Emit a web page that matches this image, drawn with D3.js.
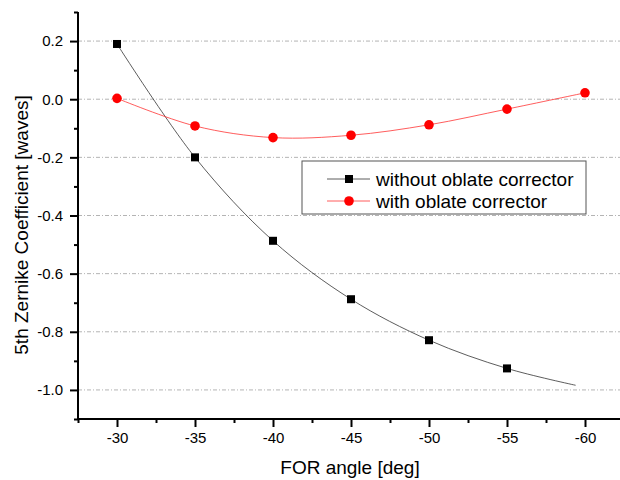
<!DOCTYPE html>
<html>
<head>
<meta charset="utf-8">
<script src="https://cdn.jsdelivr.net/npm/d3@7"></script>
<style>
  body { margin: 0; background: #fff; }
  text { font-family: "Liberation Sans", Arial, sans-serif; fill: #000; }
</style>
</head>
<body>
<div id="chart"></div>
<script>
// values
const angles = [-30, -35, -40, -45, -50, -55, -60];
const withoutCorrector = [0.19, -0.2, -0.487, -0.688, -0.829, -0.926];
const withCorrector = [0.003, -0.092, -0.132, -0.124, -0.088, -0.034, 0.022];
// the black fitted curve runs a little past the last marker
const withoutCurveEnd = { angle: -59.4, value: -0.984 };
const yTicks = [0.2, 0.0, -0.2, -0.4, -0.6, -0.8, -1.0];
const xTicks = [-30, -35, -40, -45, -50, -55, -60];
const seriesNames = ["without oblate corrector", "with oblate corrector"];

const width = 620, height = 480;
const plotLeft = 78, plotTop = 12, plotBottom = 419;

const svg = d3.select("#chart").append("svg")
    .attr("width", width)
    .attr("height", height);

const x = d3.scaleLinear().domain([-27.5, -62.5]).range([plotLeft, 624]);
const y = d3.scaleLinear().domain([-1.1, 0.3]).range([plotBottom, plotTop]);

// hyphen instead of unicode minus, like the original
const fmt = f => d => d3.format(f)(d).replace("\u2212", "-");

// grid
svg.append("g").selectAll("line")
    .data(yTicks)
    .enter().append("line")
    .attr("x1", plotLeft).attr("x2", width)
    .attr("y1", d => y(d)).attr("y2", d => y(d))
    .attr("stroke", "#b4b4b4")
    .attr("stroke-width", 1)
    .attr("stroke-dasharray", "4,2,1,2");

// axes
const yAxis = svg.append("g")
    .attr("transform", "translate(" + plotLeft + ",0)")
    .call(d3.axisLeft(y).tickValues(yTicks).tickSize(8).tickPadding(7)
        .tickFormat(fmt(".1f")));
svg.append("g")
    .attr("transform", "translate(" + plotLeft + ",0)")
    .call(d3.axisLeft(y).tickValues([0.3, 0.1, -0.1, -0.3, -0.5, -0.7, -0.9, -1.1]).tickSize(4).tickFormat(""))
    .select(".domain").remove();

const xAxis = svg.append("g")
    .attr("transform", "translate(0," + plotBottom + ")")
    .call(d3.axisBottom(x).tickValues(xTicks).tickSize(8).tickPadding(5)
        .tickFormat(fmt("d")));
svg.append("g")
    .attr("transform", "translate(0," + plotBottom + ")")
    .call(d3.axisBottom(x).tickValues([-27.5, -32.5, -37.5, -42.5, -47.5, -52.5, -57.5]).tickSize(4).tickFormat(""))
    .select(".domain").remove();

svg.selectAll(".domain").attr("stroke", "#000").attr("stroke-width", 2);
svg.selectAll(".tick line").attr("stroke", "#000").attr("stroke-width", 2);
svg.selectAll(".tick text")
    .style("font-family", "Liberation Sans, Arial, sans-serif")
    .style("font-size", "15px")
    .attr("fill", "#111");
xAxis.select(".domain").attr("d", "M" + plotLeft + ",0H" + width);
yAxis.select(".domain").attr("d", "M0," + plotTop + "V" + plotBottom);

// series lines
const line = d3.line()
    .x(d => x(d[0]))
    .y(d => y(d[1]))
    .curve(d3.curveCatmullRom.alpha(0.5));

const blackPts = withoutCorrector.map((v, i) => [angles[i], v]);
blackPts.push([withoutCurveEnd.angle, withoutCurveEnd.value]);
const redPts = withCorrector.map((v, i) => [angles[i], v]);

svg.append("path")
    .attr("d", line(blackPts))
    .attr("fill", "none")
    .attr("stroke", "#333")
    .attr("stroke-width", 0.8);
svg.append("path")
    .attr("d", line(redPts))
    .attr("fill", "none")
    .attr("stroke", "#f33")
    .attr("stroke-width", 0.8);

svg.append("g").selectAll("rect")
    .data(withoutCorrector)
    .enter().append("rect")
    .attr("x", (d, i) => x(angles[i]) - 4)
    .attr("y", d => y(d) - 4)
    .attr("width", 8).attr("height", 8)
    .attr("fill", "#000");

svg.append("g").selectAll("circle")
    .data(withCorrector)
    .enter().append("circle")
    .attr("cx", (d, i) => x(angles[i]))
    .attr("cy", d => y(d))
    .attr("r", 4.8)
    .attr("fill", "#f00");

// legend
const lg = svg.append("g").attr("transform", "translate(302,161)");
lg.append("rect")
    .attr("width", 284).attr("height", 53)
    .attr("fill", "#fff")
    .attr("stroke", "#555").attr("stroke-width", 1);
const rows = lg.selectAll(".row")
    .data(seriesNames)
    .enter().append("g")
    .attr("transform", (d, i) => "translate(0," + (18 + i * 22) + ")");
rows.append("line")
    .attr("x1", 25).attr("x2", 68)
    .attr("stroke", (d, i) => i ? "#f33" : "#333")
    .attr("stroke-width", 0.8);
rows.filter((d, i) => i === 0).append("rect")
    .attr("x", 43).attr("y", -4).attr("width", 8).attr("height", 8).attr("fill", "#000");
rows.filter((d, i) => i === 1).append("circle")
    .attr("cx", 47).attr("r", 4.8).attr("fill", "#f00");
rows.append("text")
    .attr("x", 74).attr("dy", "0.35em")
    .style("font-size", "19px")
    .text(d => d);

// axis titles
svg.append("text")
    .attr("x", 350).attr("y", 474)
    .attr("text-anchor", "middle")
    .style("font-size", "19px")
    .text("FOR angle [deg]");
svg.append("text")
    .attr("transform", "translate(28,225) rotate(-90)")
    .attr("text-anchor", "middle")
    .style("font-size", "19px")
    .text("5th Zernike Coefficient [waves]");
</script>
</body>
</html>
